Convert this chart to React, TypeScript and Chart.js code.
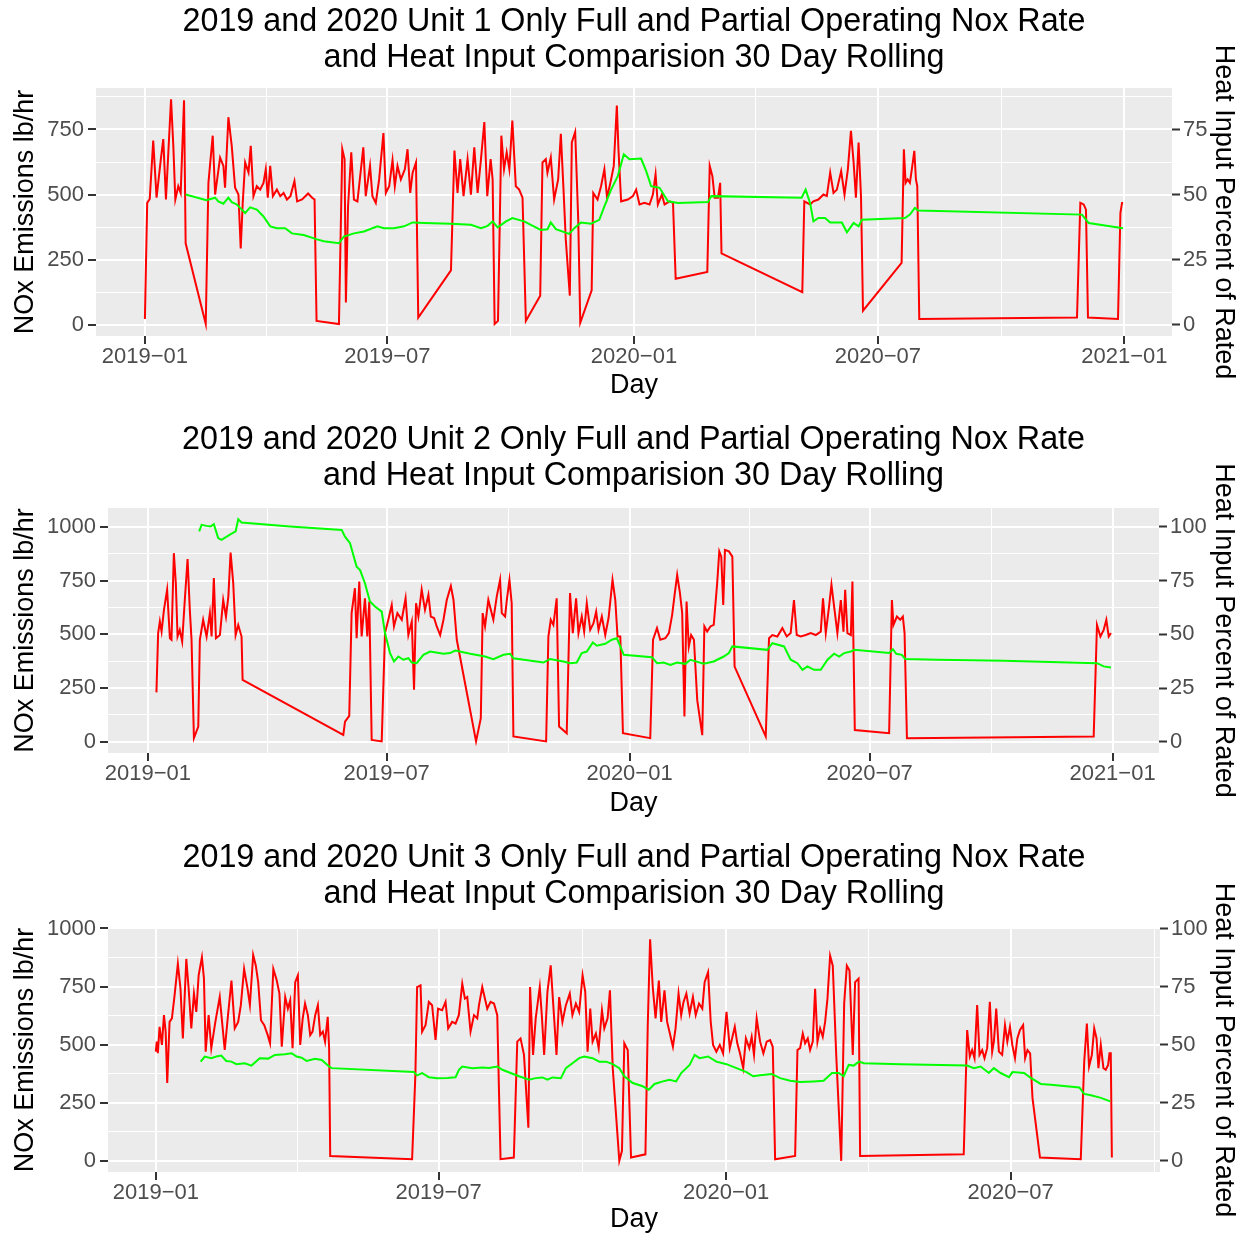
import React, { useEffect, useRef } from 'react';
import { Chart, registerables } from 'chart.js';

Chart.register(...registerables);

const FONT = '"Liberation Sans", Arial, Helvetica, sans-serif';
Chart.defaults.font.family = FONT;

// x axis: days since 2019-01-01
const xTickDays = [0, 181, 365, 547, 731];
const xTickLabels = ['2019\u221201', '2019\u221207', '2020\u221201', '2020\u221207', '2021\u221201'];

const titleLine2 = 'and Heat Input Comparision 30 Day Rolling';
const unitTitles = [
  '2019 and 2020 Unit 1 Only Full and Partial Operating Nox Rate',
  '2019 and 2020 Unit 2 Only Full and Partial Operating Nox Rate',
  '2019 and 2020 Unit 3 Only Full and Partial Operating Nox Rate',
];

// [day, NOx lb/hr]
const unit1Nox: [number, number][] = [
  [0,22],[1.7,468],[3.6,483],[6.2,707],[8.7,488],[11.9,636],[13.7,713],[15.7,481],[19.5,866],[21.2,687],[22.7,481],[24.9,532],[26.7,506],[29.2,862],[30.4,313],[45.4,3],[47.4,545],[50.6,726],[52.4,500],[56.1,642],[58.6,610],[59.8,526],[62.3,797],[64.8,687],[67.3,526],[69.8,500],[71.5,293],[73,468],[74.8,623],[77.3,585],[79,687],[81,494],[83.5,532],[86,519],[88.5,545],[90.2,597],[91.7,488],[93.5,610],[95.5,494],[98.5,519],[101,494],[103.5,506],[106,481],[108.6,494],[111.6,552],[113.6,474],[117.3,481],[121.8,504],[124.8,488],[126.6,481],[128.1,15],[144.8,3],[147.3,674],[149,636],[150,86],[151.6,455],[154,662],[156,481],[158.6,474],[163,681],[164.8,494],[168,610],[169.8,494],[172.3,468],[174.8,558],[178,736],[179.8,506],[182.3,532],[184.8,632],[186.5,532],[188.5,610],[191,558],[194,597],[196,674],[198,506],[199.8,584],[202.3,623],[204,28],[228.4,209],[231,669],[233.3,506],[235.3,636],[237.8,494],[240.8,636],[243.3,500],[245.8,681],[248.3,506],[250.8,636],[253.3,778],[255.5,494],[258,636],[259.5,558],[261,3],[263.5,15],[266,726],[268,597],[270,662],[272,597],[274.2,784],[276.8,532],[279.3,519],[281.8,488],[284.3,15],[295,112],[296.7,623],[299.2,636],[300.4,584],[302.9,642],[305.4,481],[308.4,558],[310.4,733],[312.4,519],[314.1,326],[317.1,112],[318.6,700],[321.1,740],[323.4,400],[324.9,8],[333.4,132],[334.6,506],[337.8,481],[340.4,532],[342.9,597],[344.9,488],[347.9,558],[349.9,610],[352.2,842],[353.4,674],[355.4,474],[360.4,481],[364.2,494],[366.6,519],[369.1,462],[372.8,468],[376.6,462],[379.1,500],[381.1,578],[382.8,462],[385.8,500],[387.8,462],[391.6,474],[394.1,468],[396.1,177],[419.7,203],[421.5,610],[423.5,571],[425.2,488],[427.7,488],[429.3,545],[430.3,274],[490.6,125],[492.1,474],[496.4,462],[498.9,474],[502.6,481],[506.4,500],[508.9,494],[511.4,584],[513.9,506],[516.4,519],[519.6,590],[522.1,500],[524.6,597],[526.9,745],[528.9,623],[530.6,488],[532.6,700],[534.4,494],[535.9,54],[564.7,238],[566.4,674],[567.7,545],[569.2,558],[570.9,545],[572.7,610],[574.2,668],[575.4,558],[576.4,532],[577.9,22],[695.6,28],[698.1,468],[700.6,462],[702.3,442],[703.8,28],[726.2,22],[728,429],[729.2,468],[730,468],
];

// [day, heat input % of rated]
const unit1Heat: [number, number][] = [
  [30.4,50.0],[45.9,47.8],[52.4,48.8],[54.8,47.4],[58.6,46.5],[62.3,48.8],[64.8,47.1],[68.6,46.2],[72.3,44.2],[74.8,42.9],[78.5,45.1],[83.5,44.2],[88.5,41.6],[93.5,37.8],[98.5,37.1],[104.7,37.1],[109.7,35.1],[118.5,34.5],[128.5,32.8],[133.5,32.1],[144.8,31.3],[148.5,33.9],[156,35.1],[163.5,35.8],[173.5,37.8],[178.4,37.1],[185.9,37.1],[193.4,37.8],[199.8,39.3],[208.5,39.1],[228.4,38.8],[243.3,38.4],[250.8,37.1],[255.8,38.0],[259.5,39.7],[263.2,37.4],[269.5,39.7],[274.2,41.0],[283,39.7],[295.4,36.4],[300.4,36.7],[302.9,39.3],[306.7,36.7],[316.6,34.9],[320.4,37.1],[325.4,39.3],[332.9,38.8],[339.1,40.3],[342.9,45.5],[347.9,51.9],[352.9,57.1],[357.4,65.5],[361.6,63.6],[370.3,63.8],[374.1,59.0],[377.8,53.2],[384.1,52.6],[390.3,47.4],[397.8,46.8],[420.2,47.1],[422.7,49.4],[490.1,48.8],[493.1,51.9],[496.4,46.8],[498.9,39.7],[502.6,41.0],[507.6,41.0],[511.4,39.3],[520.1,39.3],[523.9,35.5],[528.9,39.1],[532.6,37.8],[535.1,40.3],[567.2,41.0],[570.9,42.3],[574.6,44.9],[577.1,43.9],[699.3,42.3],[704.3,39.1],[730,37.1],
];

const unit2Nox: [number, number][] = [
  [6.5,230],[7.8,506],[9.1,560],[10.4,513],[12.2,614],[14.6,708],[16.7,482],[17.9,475],[19.7,878],[21.2,738],[22.5,490],[24.2,521],[26,466],[28,660],[30.1,851],[31.8,614],[33.1,475],[34.9,17],[38.2,71],[39.4,475],[41.9,568],[44.5,490],[47,599],[48.3,490],[50,762],[51.6,482],[54.6,497],[57.1,660],[59.2,583],[61,677],[62.7,881],[64.7,738],[66.5,497],[68.5,544],[71,490],[71.8,288],[148.1,32],[149.4,94],[152.6,121],[154.4,599],[156.9,715],[158.2,482],[160.2,746],[162,490],[164.5,668],[166.3,490],[167.8,653],[169.6,9],[177.2,2],[179.7,506],[182.2,568],[184.8,637],[186.5,537],[189.1,599],[192.4,568],[195.3,668],[197.4,497],[200,560],[201.7,242],[203.2,645],[205,583],[207.5,708],[210,614],[212.6,684],[214.4,583],[216.9,576],[218.9,537],[221.5,497],[224,568],[226.5,660],[229.6,725],[231.6,660],[234.1,475],[248.7,2],[252.3,110],[253.7,599],[255.5,537],[258,660],[261.8,568],[264.4,677],[266.9,754],[268.2,599],[270.7,583],[272,660],[274,754],[275.7,645],[277,25],[301.8,2],[303.5,490],[305.3,568],[307.3,544],[309.8,668],[311.6,71],[317.4,40],[319.9,692],[322,506],[324.5,668],[326.3,506],[328.8,583],[330.6,513],[332.6,645],[335.2,521],[337.7,552],[339.7,606],[341.5,521],[344,583],[346.6,497],[349.1,576],[352.1,754],[354.2,660],[355.9,490],[358,490],[360,40],[380.7,17],[382.8,475],[385.8,529],[388.3,475],[392.1,482],[394.8,506],[397.3,591],[399,677],[401.1,777],[403.2,692],[404.9,599],[406.6,118],[408.2,653],[409.9,443],[411.7,497],[413.8,475],[416.3,194],[420.1,31],[421.7,537],[423.8,513],[426.3,537],[428.8,544],[431.4,738],[433,886],[434.5,862],[436,637],[437.3,893],[440.3,886],[442.9,862],[444.6,350],[468.2,25],[470.7,482],[473.2,497],[477,490],[480.8,529],[484.1,490],[487.1,506],[489.6,660],[491.7,497],[494.7,490],[498.5,497],[502.3,506],[506.1,497],[509.9,513],[511.6,668],[513.7,506],[516.2,630],[518,731],[520,630],[522.5,506],[525.1,660],[527.1,513],[528.4,708],[530.1,506],[532.7,497],[533.9,746],[535.7,55],[561.7,40],[563.8,660],[565,544],[567.6,583],[570.1,568],[572.1,583],[573.4,506],[575.2,17],[716.7,25],[719.2,544],[721.8,490],[724.3,521],[726.3,568],[728.1,490],[729.8,506],
];

const unit2Heat: [number, number][] = [
  [38.9,97.9],[40.7,101.0],[44.5,100.5],[47.5,100.2],[50,101.3],[53.3,94.8],[55.8,94.0],[62.2,96.4],[66.5,97.9],[68.5,103.6],[71,102.1],[107.7,100.2],[146.9,98.6],[149.4,95.5],[153.2,92.4],[158.2,81.5],[160.8,79.9],[164.5,73.8],[168.3,65.3],[172.1,63.0],[177.2,60.6],[179.7,50.6],[183.5,41.3],[186.5,37.4],[189.8,39.7],[193.6,38.2],[197.4,38.9],[200,36.9],[203.7,36.6],[208.8,40.5],[213.9,42.0],[224,41.0],[229,41.3],[232.9,42.5],[244.3,41.0],[255.5,39.7],[261.8,38.5],[269.5,40.5],[274.5,41.0],[277,38.9],[299.7,36.9],[304.8,38.5],[314.9,37.4],[319.9,36.6],[325,36.9],[328.8,41.3],[332.6,42.0],[337.2,46.2],[340.2,44.7],[346.6,45.6],[351.6,47.5],[355.4,48.2],[358,44.4],[360.6,40.5],[382,39.4],[385.8,36.6],[390.9,36.9],[395.9,35.8],[401,36.9],[407.3,36.3],[411.1,38.2],[421.2,36.3],[428.8,37.4],[436.4,39.7],[440.3,41.3],[442.9,44.4],[469.4,42.8],[473.2,45.9],[482.1,44.4],[487.1,38.2],[492.2,36.6],[496,33.5],[499.8,35.1],[504.8,33.5],[509.9,33.5],[515,38.2],[520,41.0],[523.8,39.7],[527.6,41.3],[532.7,42.0],[535.2,42.8],[561.7,41.3],[564.6,43.1],[567.1,41.0],[571.4,40.5],[573.9,38.5],[597.9,38.2],[648.5,37.7],[719.2,36.6],[724.3,35.1],[729.8,34.6],
];

const unit3Nox: [number, number][] = [
  [0,470],[0.6,513],[1.3,463],[2.4,577],[3.9,499],[5.2,627],[6.3,556],[7.3,335],[8.8,598],[10.3,613],[12,712],[14.1,848],[15.8,741],[17.3,527],[19.5,869],[21,741],[22.7,570],[24.4,720],[25.9,641],[27.4,798],[29.5,876],[30.8,784],[31.9,470],[33.8,627],[35.5,485],[38.1,598],[40.9,705],[42.4,598],[44.1,477],[46.2,627],[48.4,776],[50.5,570],[52.7,598],[54.4,670],[56.5,826],[58.7,741],[60.2,670],[62.3,886],[64,840],[65.5,769],[67.3,605],[69.4,584],[71.6,541],[73.1,506],[75.2,826],[77.4,776],[79.1,720],[80.6,491],[82.8,705],[84.5,655],[86,691],[87.5,485],[89.2,769],[90.9,798],[92.4,499],[94,613],[95.5,677],[97.3,627],[98.8,541],[100.3,556],[102,627],[103.7,670],[105.2,541],[106.9,556],[108.3,513],[110,620],[110.9,485],[111.6,21],[164,7],[166.1,370],[167.2,748],[169.4,755],[170.4,556],[172.6,584],[174.7,684],[176.8,670],[179,520],[180.6,655],[183.2,648],[185.4,684],[187.1,570],[189.6,598],[191.8,591],[193.9,627],[196.1,762],[197.8,698],[199.3,705],[201.4,556],[203.6,627],[205.7,613],[206.8,670],[208.9,748],[212.1,655],[214.2,684],[216.4,677],[218.5,627],[220.6,7],[229.1,14],[231.3,513],[233.4,527],[235.6,456],[238.4,143],[239.5,748],[241.4,456],[243.1,613],[245.7,748],[247,627],[248.5,456],[250.6,727],[252.7,841],[254.9,613],[256.4,456],[258.1,705],[260.2,598],[262.4,670],[264.9,720],[266.6,627],[268.8,677],[270.9,641],[273.1,798],[274.8,727],[276.3,470],[278,655],[279.5,513],[281.6,548],[283.4,485],[285.5,648],[287,570],[289.1,613],[290.6,734],[292.4,399],[296.6,0],[298.3,43],[299.8,506],[302,477],[304.1,14],[313.3,28],[314.8,584],[316.3,954],[318,748],[319.8,613],[321.9,776],[323.4,598],[325.5,734],[327.2,598],[328.7,556],[330.9,491],[332.6,570],[334.5,720],[336.2,627],[337.7,684],[339.5,720],[341.6,634],[343.7,705],[345.5,627],[347.6,677],[349.7,655],[351.2,769],[353.4,812],[355.1,598],[356.6,499],[358.7,470],[360.9,499],[363,463],[365.2,641],[367.3,485],[369,534],[370.5,577],[372.1,506],[373.8,463],[375.9,399],[377.6,527],[379.8,485],[381.3,534],[382.8,456],[384.5,613],[386.7,513],[388.8,463],[390.9,513],[393.1,520],[394.8,491],[396.3,7],[409.1,21],[410.6,477],[412.3,485],[414,548],[415.5,506],[417.2,527],[418.7,477],[420.4,513],[421.9,741],[423.4,513],[425.1,570],[426.8,534],[428.3,598],[429.8,698],[431.5,883],[433.2,840],[435.4,456],[438.6,0],[440.5,677],[442.2,840],[443.9,819],[446,456],[447.5,769],[449.7,784],[450.7,21],[517,28],[519.2,563],[520.9,449],[522.4,477],[523.9,442],[525.6,670],[527.1,456],[528.8,477],[530.3,442],[532,485],[533.7,684],[535.2,470],[536.3,513],[537.8,655],[539.5,470],[541.6,456],[543.4,584],[544.9,513],[546.6,577],[548.1,499],[549.8,442],[551.3,527],[553,563],[555,584],[556.3,442],[557.8,477],[559.5,463],[561,271],[565.8,14],[591.9,7],[594.1,427],[595.8,591],[597.2,406],[599,456],[600.5,570],[602,527],[603.2,399],[604.7,499],[606.4,399],[607.9,392],[609.4,413],[610.3,463],[611.1,463],[611.8,14],
];

const unit3Heat: [number, number][] = [
  [28.7,42.7],[31.3,44.9],[35.5,44.2],[38.7,44.9],[41.9,45.3],[45.1,43.0],[48.4,42.7],[51.6,41.6],[56.9,42.0],[61.2,41.0],[66.5,44.2],[71.9,44.0],[76.2,45.6],[82.6,45.9],[86.9,46.3],[90.1,44.9],[93.3,44.4],[96.5,43.0],[101.9,43.9],[106.2,43.4],[110.9,40.6],[112.6,39.9],[165.1,38.2],[167.2,36.8],[170.4,37.8],[174.7,36.0],[180.1,35.5],[186.5,35.7],[191.8,36.0],[194,39.2],[196.1,40.6],[202.5,39.9],[209,40.2],[213.2,40.0],[218.5,40.6],[221.8,39.2],[227,37.8],[232.4,36.4],[238.8,34.9],[243.1,35.6],[247.4,35.9],[250.6,34.9],[253.8,35.9],[259.2,35.6],[262.4,39.9],[266.6,42.0],[270.9,44.2],[274.1,44.9],[279.5,44.2],[283.8,42.7],[288.1,42.7],[292.4,41.6],[296.6,39.9],[299.8,36.4],[305.2,33.5],[311.6,32.1],[315.5,30.6],[319.1,33.1],[324.5,34.2],[328.7,34.9],[333,34.2],[336.2,37.8],[341.6,41.3],[344.8,45.6],[348,44.2],[353.4,44.9],[358.7,42.7],[365.2,41.6],[371.6,39.9],[378,38.2],[382.3,36.4],[386.7,36.8],[394.1,37.4],[399.5,35.6],[405.9,34.5],[412.3,33.9],[420.9,34.2],[427.3,34.5],[432.7,37.8],[437,37.8],[440.2,36.4],[443.4,41.3],[446.6,41.0],[449.9,42.7],[453.1,42.0],[476.6,41.6],[519.2,41.0],[523.5,39.9],[527.8,40.6],[533.1,37.8],[536.3,39.9],[540.6,37.8],[546,36.0],[548.1,38.2],[555.6,37.8],[559.9,35.7],[566.3,33.1],[572.8,32.8],[591,31.6],[594.1,28.8],[598.4,28.2],[604.8,27.1],[610.8,25.6],
];

const noxMajorTicks1 = [0, 250, 500, 750];
const noxMajorTicks23 = [0, 250, 500, 750, 1000];
const heatTicks1 = [0, 25, 50, 75];
const heatTicks23 = [0, 25, 50, 75, 100];

interface PanelSpec {
  title: string;
  nox: [number, number][];
  heat: [number, number][];
  xMin: number; xMax: number;
  yMin: number; yMax: number;
  yMajor: number[];
  heatMajor: number[];
  top: number; height: number;
  leftW: number; rightW: number;
  titlePadBottom: number;
  xAxisH: number;
  xTitlePadBottom: number;
}

const panels: PanelSpec[] = [
  { title: unitTitles[0], nox: unit1Nox, heat: unit1Heat, xMin: -36.5, xMax: 766.5, yMin: -43, yMax: 909,
    yMajor: noxMajorTicks1, heatMajor: heatTicks1, top: 0, height: 418, leftW: 96, rightW: 74,
    titlePadBottom: 12, xAxisH: 82, xTitlePadBottom: 16 },
  { title: unitTitles[1], nox: unit2Nox, heat: unit2Heat, xMin: -30.2, xMax: 766.2, yMin: -52, yMax: 1088,
    yMajor: noxMajorTicks23, heatMajor: heatTicks23, top: 418, height: 418, leftW: 108, rightW: 87,
    titlePadBottom: 14, xAxisH: 83, xTitlePadBottom: 16 },
  { title: unitTitles[2], nox: unit3Nox, heat: unit3Heat, xMin: -30.6, xMax: 642.6, yMin: -48, yMax: 1002,
    yMajor: noxMajorTicks23, heatMajor: heatTicks23, top: 836, height: 400, leftW: 108, rightW: 86,
    titlePadBottom: 16, xAxisH: 64, xTitlePadBottom: 0 },
];

const TICK_COLOR = '#4D4D4D';
const TICKMARK_COLOR = '#333333';

const panelBg = {
  id: 'panelBg',
  beforeDraw(chart: any) {
    const { ctx, chartArea } = chart;
    if (!chartArea) return;
    ctx.save();
    ctx.fillStyle = '#EBEBEB';
    ctx.fillRect(chartArea.left, chartArea.top, chartArea.right - chartArea.left, chartArea.bottom - chartArea.top);
    ctx.restore();
  },
};

function buildConfig(p: PanelSpec): any {
  const xMajor = xTickDays.filter((d) => d >= p.xMin && d <= p.xMax);
  const xMinor: number[] = [];
  for (let i = 0; i < xTickDays.length - 1; i++) {
    const m = (xTickDays[i] + xTickDays[i + 1]) / 2;
    if (m >= p.xMin && m <= p.xMax) xMinor.push(m);
  }
  const xAll = [...xMajor, ...xMinor].sort((a, b) => a - b);
  const yAll: number[] = [];
  for (let v = 0; v <= p.yMax; v += 125) yAll.push(v);
  const isXMajor = (v: number) => xTickDays.includes(v);
  const isYMajor = (v: number) => v % 250 === 0;

  return {
    type: 'line',
    data: {
      datasets: [
        {
          data: p.heat.map(([x, y]) => ({ x, y })),
          borderColor: '#00FF00',
          borderWidth: 2,
          pointRadius: 0,
          tension: 0,
          fill: false,
          xAxisID: 'x',
          yAxisID: 'y2',
        },
        {
          data: p.nox.map(([x, y]) => ({ x, y })),
          borderColor: '#FF0000',
          borderWidth: 2,
          pointRadius: 0,
          tension: 0,
          fill: false,
          xAxisID: 'x',
          yAxisID: 'y',
        },
      ],
    },
    options: {
      animation: false,
      responsive: false,
      maintainAspectRatio: false,
      events: [],
      layout: { padding: 0 },
      plugins: {
        legend: { display: false },
        tooltip: { enabled: false },
        title: {
          display: true,
          fullSize: false,
          text: [p.title, titleLine2],
          color: '#000000',
          font: { family: FONT, size: 32.3, weight: 'normal', lineHeight: 1.115 },
          padding: { top: 4, bottom: p.titlePadBottom },
        },
      },
      scales: {
        x: {
          type: 'linear',
          position: 'bottom',
          min: p.xMin,
          max: p.xMax,
          afterBuildTicks: (s: any) => { s.ticks = xAll.map((v) => ({ value: v })); },
          afterFit: (s: any) => { s.height = p.xAxisH; },
          border: { display: false },
          grid: {
            color: '#FFFFFF',
            lineWidth: (c: any) => (c.tick && isXMajor(c.tick.value) ? 2 : 1),
            tickColor: (c: any) => (c.tick && isXMajor(c.tick.value) ? TICKMARK_COLOR : 'rgba(0,0,0,0)'),
            tickLength: 8,
            tickWidth: 2,
          },
          ticks: {
            autoSkip: false,
            maxRotation: 0,
            minRotation: 0,
            padding: 0,
            color: TICK_COLOR,
            font: { family: FONT, size: 22 },
            callback: (v: number) => {
              const i = xTickDays.indexOf(v);
              return i >= 0 ? xTickLabels[i] : '';
            },
          },
          title: {
            display: true,
            text: 'Day',
            color: '#000000',
            font: { family: FONT, size: 27 },
            padding: { top: 0, bottom: p.xTitlePadBottom },
          },
        },
        y: {
          type: 'linear',
          position: 'left',
          min: p.yMin,
          max: p.yMax,
          afterBuildTicks: (s: any) => { s.ticks = yAll.map((v) => ({ value: v })); },
          afterFit: (s: any) => { s.width = p.leftW; },
          border: { display: false },
          grid: {
            color: '#FFFFFF',
            lineWidth: (c: any) => (c.tick && isYMajor(c.tick.value) ? 2 : 1),
            tickColor: (c: any) => (c.tick && isYMajor(c.tick.value) ? TICKMARK_COLOR : 'rgba(0,0,0,0)'),
            tickLength: 8,
            tickWidth: 2,
          },
          ticks: {
            autoSkip: false,
            padding: 4,
            color: TICK_COLOR,
            font: { family: FONT, size: 22 },
            callback: (v: number) => (p.yMajor.includes(v) ? String(v) : ''),
          },
          title: {
            display: true,
            text: 'NOx Emissions lb/hr',
            color: '#000000',
            font: { family: FONT, size: 27 },
            padding: { top: 9, bottom: 0 },
          },
        },
        y2: {
          type: 'linear',
          position: 'right',
          min: p.yMin / 10,
          max: p.yMax / 10,
          afterBuildTicks: (s: any) => { s.ticks = p.heatMajor.map((v) => ({ value: v })); },
          afterFit: (s: any) => { s.width = p.rightW; },
          border: { display: false },
          grid: {
            drawOnChartArea: false,
            color: TICKMARK_COLOR,
            tickColor: TICKMARK_COLOR,
            tickLength: 8,
            tickWidth: 2,
          },
          ticks: {
            autoSkip: false,
            padding: 3,
            color: TICK_COLOR,
            font: { family: FONT, size: 22 },
            callback: (v: number) => String(v),
          },
          title: {
            display: true,
            text: 'Heat Input Percent of Rated',
            color: '#000000',
            font: { family: FONT, size: 27 },
            padding: { top: 6, bottom: 0 },
          },
        },
      },
    },
    plugins: [panelBg],
  };
}

function Panel({ spec }: { spec: PanelSpec }) {
  const ref = useRef<HTMLCanvasElement | null>(null);
  useEffect(() => {
    if (!ref.current) return;
    const chart = new Chart(ref.current, buildConfig(spec));
    return () => chart.destroy();
  }, [spec]);
  return (
    <canvas
      ref={ref}
      width={1246}
      height={spec.height}
      style={{ position: 'absolute', left: 0, top: spec.top, width: 1246, height: spec.height, display: 'block' }}
    />
  );
}

export default function App() {
  return (
    <div style={{ position: 'fixed', left: 0, top: 0, width: 1246, height: 1236, background: '#FFFFFF', overflow: 'hidden' }}>
      {panels.map((p, i) => (
        <Panel key={i} spec={p} />
      ))}
    </div>
  );
}
